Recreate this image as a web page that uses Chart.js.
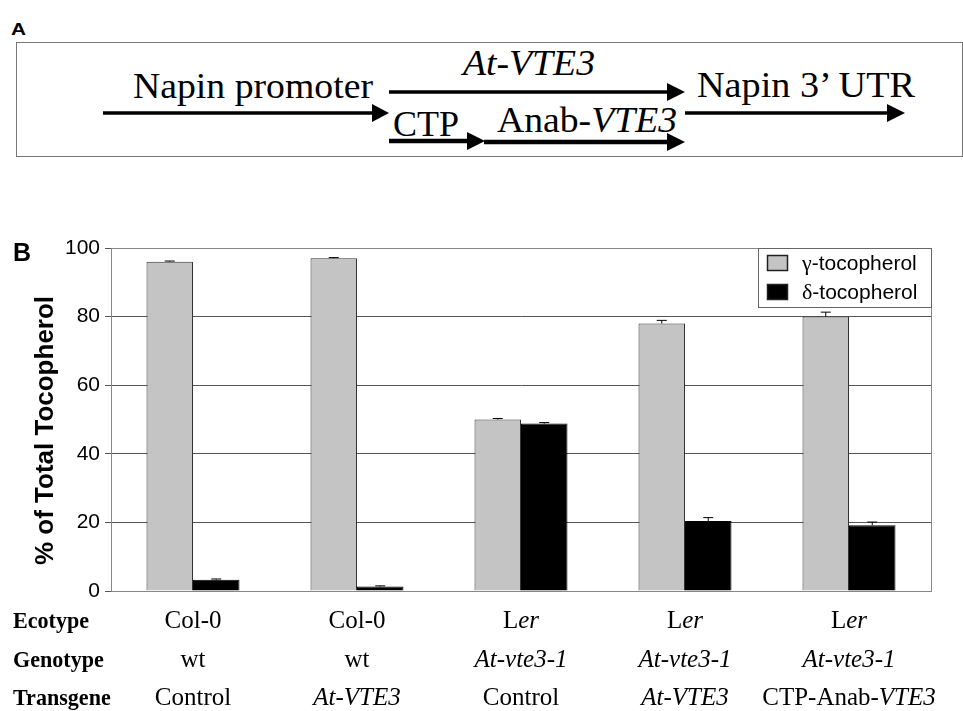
<!DOCTYPE html>
<html>
<head>
<meta charset="utf-8">
<script src="https://cdn.jsdelivr.net/npm/chart.js@4.4.1/dist/chart.umd.min.js"></script>
<style>
  body { margin: 0; background: #fff; width: 963px; height: 711px; overflow: hidden; position: relative; }
  #diagram { position: absolute; left: 0; top: 0; }
  #chartBox { position: absolute; left: 0; top: 230px; width: 963px; height: 481px; }
  .serif { font-family: "Liberation Serif", "Times New Roman", serif; font-size: 35px; fill: #000; }
</style>
</head>
<body>

<!-- panel A: construct diagram -->
<svg id="diagram" width="963" height="230">
  <text transform="translate(11,35) scale(1.3,1)" font-family="Liberation Sans, Arial, sans-serif" font-weight="bold" font-size="16">A</text>
  <rect x="16.5" y="42.5" width="946" height="114" fill="none" stroke="#777" stroke-width="1"/>

  <text class="serif" x="133" y="98" textLength="240" lengthAdjust="spacingAndGlyphs">Napin promoter</text>
  <text class="serif" x="463" y="75" font-style="italic" textLength="132" lengthAdjust="spacingAndGlyphs">At-VTE3</text>
  <text class="serif" x="697" y="97" textLength="218" lengthAdjust="spacingAndGlyphs">Napin 3’ UTR</text>
  <text class="serif" x="393" y="136" textLength="66" lengthAdjust="spacingAndGlyphs">CTP</text>
  <text class="serif" x="497" y="132" textLength="180" lengthAdjust="spacingAndGlyphs">Anab-<tspan font-style="italic">VTE3</tspan></text>

  <g stroke="#000" stroke-width="3.5">
    <line x1="103" y1="113" x2="375" y2="113"/>
    <line x1="389" y1="92" x2="669" y2="92"/>
    <line x1="685" y1="113" x2="889" y2="113"/>
  </g>
  <g stroke="#000" stroke-width="4.5">
    <line x1="389" y1="141" x2="469" y2="141"/>
    <line x1="484" y1="142" x2="669" y2="142"/>
  </g>
  <g fill="#000">
    <polygon points="372,104 389,113 372,122"/>
    <polygon points="667,83 685,92 667,101"/>
    <polygon points="887,104 905,113 887,122"/>
    <polygon points="467,132 485,141 467,150"/>
    <polygon points="667,133 685,142 667,151"/>
  </g>
</svg>

<div id="chartBox"><canvas id="myChart"></canvas></div>

<script>
// categories and the three label rows under the bars (_..._ = italic)
const ecotypes = ["Col-0", "Col-0", "L_er_", "L_er_", "L_er_"];
const genotypes = ["wt", "wt", "_At-vte3-1_", "_At-vte3-1_", "_At-vte3-1_"];
const transgenes = ["Control", "_At-VTE3_", "Control", "_At-VTE3_", "CTP-Anab-_VTE3_"];

// % of total tocopherol
const gammaValues = [96, 97, 50, 78, 80];
const gammaErrors = [0.2, 0.2, 0.3, 0.9, 1.3];
const deltaValues = [3.3, 1.3, 48.8, 20.4, 19.2];
const deltaErrors = [0.2, 0.2, 0.3, 1.0, 0.9];

const yTicks = [0, 20, 40, 60, 80, 100];

const sans = "'Liberation Sans', Arial, sans-serif";
const serif = "'Liberation Serif', 'Times New Roman', serif";

// draw a string where _..._ parts are italic, centred on cx
function drawRich(ctx, str, cx, baseline, weight) {
  const parts = str.split("_");
  const fonts = parts.map((p, i) => (i % 2 ? "italic " : "") + weight + " 25px " + serif);
  let total = 0;
  parts.forEach((p, i) => { ctx.font = fonts[i]; total += ctx.measureText(p).width; });
  let x = cx - total / 2;
  parts.forEach((p, i) => {
    ctx.font = fonts[i];
    ctx.fillText(p, x, baseline);
    x += ctx.measureText(p).width;
  });
}

const errorBars = {
  id: "errorBars",
  afterDatasetsDraw(chart) {
    const ctx = chart.ctx;
    const y = chart.scales.y;
    chart.data.datasets.forEach((ds, i) => {
      chart.getDatasetMeta(i).data.forEach((bar, j) => {
        const top = y.getPixelForValue(ds.data[j] + ds.errors[j]);
        ctx.save();
        ctx.strokeStyle = "#000";
        ctx.lineWidth = 1;
        ctx.beginPath();
        ctx.moveTo(bar.x, bar.y);
        ctx.lineTo(bar.x, top);
        ctx.moveTo(bar.x - 5, top);
        ctx.lineTo(bar.x + 5, top);
        ctx.stroke();
        ctx.restore();
      });
    });
  }
};

const extras = {
  id: "extras",
  beforeDatasetsDraw(chart) {
    // box round the plot area
    const ctx = chart.ctx, ca = chart.chartArea;
    ctx.save();
    ctx.strokeStyle = "#888";
    ctx.lineWidth = 1;
    ctx.strokeRect(ca.left + 0.5, ca.top + 0.5, ca.right - ca.left, ca.bottom - ca.top);
    ctx.restore();
  },
  afterDraw(chart) {
    const ctx = chart.ctx, ca = chart.chartArea;
    ctx.save();

    // panel letter
    ctx.fillStyle = "#000";
    ctx.textAlign = "left";
    ctx.textBaseline = "alphabetic";
    ctx.font = "bold 25px " + sans;
    ctx.fillText("B", 13, 31);

    // y axis title
    ctx.save();
    ctx.translate(46, (ca.top + ca.bottom) / 2 + 11);
    ctx.rotate(-Math.PI / 2);
    ctx.textAlign = "center";
    ctx.textBaseline = "middle";
    ctx.font = "bold 26px " + sans;
    ctx.fillText("% of Total Tocopherol", 0, 0);
    ctx.restore();

    // legend
    const lx = ca.right - 173, ly = ca.top;
    ctx.fillStyle = "#fff";
    ctx.fillRect(lx, ly, 173, 59);
    ctx.strokeStyle = "#666";
    ctx.lineWidth = 1;
    ctx.strokeRect(lx + 0.5, ly + 0.5, 173, 59);
    chart.data.datasets.forEach((ds, i) => {
      const cy = ly + 15 + i * 29;
      ctx.fillStyle = ds.backgroundColor;
      ctx.fillRect(lx + 9, cy - 8, 21, 16);
      ctx.strokeStyle = "#222";
      ctx.lineWidth = 1.5;
      ctx.strokeRect(lx + 9.5, cy - 7.5, 20, 15);
      ctx.fillStyle = "#000";
      ctx.textBaseline = "middle";
      ctx.font = "22px " + serif;
      const greek = ds.label.charAt(0);
      ctx.fillText(greek, lx + 44, cy + 1);
      const gw = ctx.measureText(greek).width;
      ctx.font = "21px " + sans;
      ctx.fillText(ds.label.slice(1), lx + 44 + gw, cy + 1);
    });

    // table rows under the bars
    const x = chart.scales.x;
    const rows = [["Ecotype", ecotypes, 37], ["Genotype", genotypes, 76], ["Transgene", transgenes, 114]];
    ctx.fillStyle = "#000";
    ctx.textBaseline = "alphabetic";
    rows.forEach(([head, vals, dy]) => {
      const base = ca.bottom + dy;
      ctx.textAlign = "left";
      ctx.font = "bold 24px " + serif;
      ctx.save();
      ctx.translate(13, base);
      ctx.scale(0.92, 1);
      ctx.fillText(head, 0, 0);
      ctx.restore();
      vals.forEach((v, i) => drawRich(ctx, v, x.getPixelForValue(i), base, ""));
    });
    ctx.restore();
  }
};

const dataY = {
  labels: transgenes,
  datasets: [
    {
      label: "γ-tocopherol",
      data: gammaValues,
      errors: gammaErrors,
      backgroundColor: "#c4c4c4",
      borderColor: "#333",
      borderWidth: 1
    },
    {
      label: "δ-tocopherol",
      data: deltaValues,
      errors: deltaErrors,
      backgroundColor: "#000",
      borderColor: "#000",
      borderWidth: 1
    }
  ]
};

const config = {
  type: "bar",
  data: dataY,
  options: {
    responsive: true,
    maintainAspectRatio: false,
    animation: false,
    categoryPercentage: 0.567,
    barPercentage: 1,
    layout: { padding: { left: 0, top: 18, right: 32, bottom: 120 } },
    plugins: { legend: { display: false }, tooltip: { enabled: false } },
    scales: {
      x: {
        ticks: { display: false },
        grid: { display: false },
        border: { display: true, color: "#777", width: 1 },
        afterFit: (s) => { s.height = 0; }
      },
      y: {
        min: 0,
        max: 100,
        afterFit: (s) => { s.width = 111; },
        afterBuildTicks: (s) => { s.ticks = yTicks.map(v => ({ value: v })); },
        ticks: {
          color: "#000",
          padding: 5,
          font: { family: sans, size: 21 }
        },
        grid: { color: "#555", lineWidth: 1, tickLength: 6 },
        border: { display: true, color: "#777", width: 1 }
      }
    }
  },
  plugins: [errorBars, extras]
};

const myChart = new Chart(document.getElementById("myChart"), config);
</script>
</body>
</html>
